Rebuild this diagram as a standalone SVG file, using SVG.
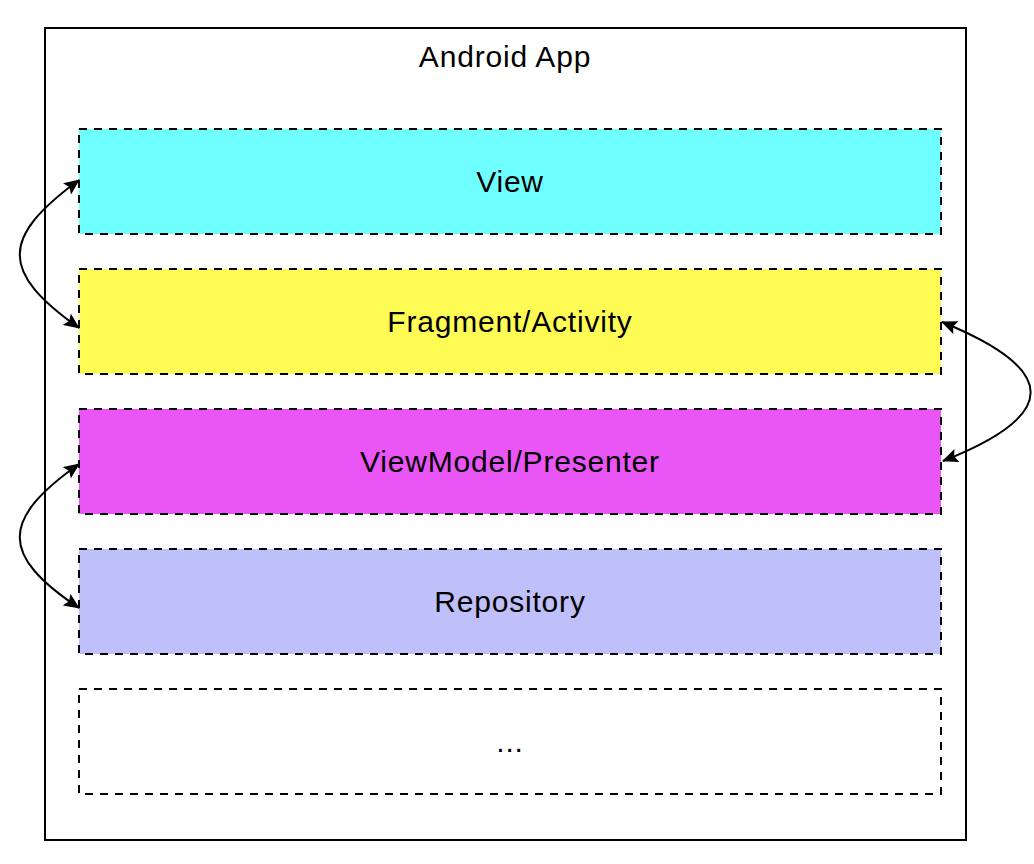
<svg xmlns="http://www.w3.org/2000/svg" width="1034" height="864" viewBox="0 0 1034 864">
<style>
.layer{stroke:#000;stroke-width:2;stroke-dasharray:8 7}
.lbl{font-family:"Liberation Sans",Arial,Helvetica,sans-serif;font-size:30px;letter-spacing:0.8px;fill:#000;text-anchor:middle}
.conn{fill:none;stroke:#000;stroke-width:2}
</style>
<defs>
<marker id="ah" viewBox="0 0 16 14" refX="15" refY="7" markerWidth="16" markerHeight="14" markerUnits="userSpaceOnUse" orient="auto-start-reverse">
<path d="M0,0 L16,7 L0,14 L3,7 Z" fill="#000" stroke="none"/>
</marker>
</defs>
<rect width="1034" height="864" fill="#fff"/>
<g id="app">
<rect x="45" y="28" width="921" height="812" fill="#fff" stroke="#000" stroke-width="2"/>
<text class="lbl" x="505" y="67">Android App</text>
</g>
<g id="view">
<rect class="layer" x="79" y="129" width="862" height="105" fill="#70FFFF"/>
<text class="lbl" x="510" y="192">View</text>
</g>
<g id="fragment">
<rect class="layer" x="79" y="269" width="862" height="105" fill="#FFFB55"/>
<text class="lbl" x="510" y="332">Fragment/Activity</text>
</g>
<g id="viewmodel">
<rect class="layer" x="79" y="409" width="862" height="105" fill="#EA55F5"/>
<text class="lbl" x="510" y="472">ViewModel/Presenter</text>
</g>
<g id="repository">
<rect class="layer" x="79" y="549" width="862" height="105" fill="#BFBFF9"/>
<text class="lbl" x="510" y="612">Repository</text>
</g>
<g id="more">
<rect class="layer" x="79" y="689" width="862" height="105" fill="#fff"/>
<text class="lbl" x="510" y="752">...</text>
</g>
<g id="connectors">
<path class="conn" d="M79,180 C0,238 0,272 79,328" marker-start="url(#ah)" marker-end="url(#ah)"/>
<path class="conn" d="M942,322 C1060,370 1060,415 943,461" marker-start="url(#ah)" marker-end="url(#ah)"/>
<path class="conn" d="M79,464 C0,520 0,555 79,608" marker-start="url(#ah)" marker-end="url(#ah)"/>
</g>
</svg>
